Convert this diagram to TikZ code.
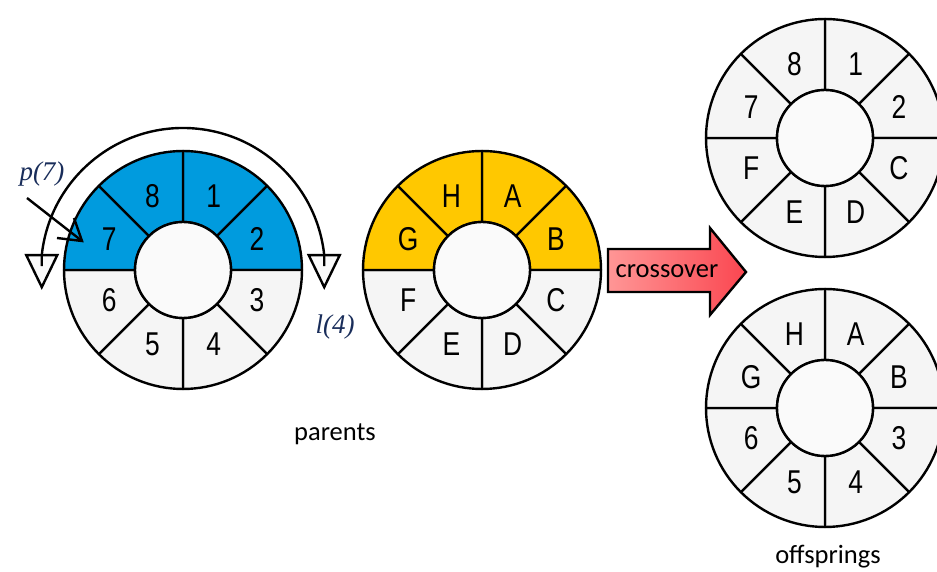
\documentclass[tikz,border=0pt]{standalone}
\usepackage{fontspec}
\setmainfont{Carlito}
\newfontfamily\genefont[FakeStretch=0.8]{Liberation Sans}
\newfontfamily\symfont{Liberation Serif}
\usetikzlibrary{arrows.meta,calc}

\definecolor{segblue}{RGB}{0,155,222}
\definecolor{segyellow}{RGB}{255,200,0}
\definecolor{seggray}{RGB}{245,245,245}
\definecolor{hubgray}{RGB}{250,250,250}
\definecolor{labelnavy}{RGB}{25,45,90}
\definecolor{arrowpink}{RGB}{255,150,150}
\definecolor{arrowred}{RGB}{250,70,80}

\tikzset{
  ringline/.style={draw=black, line width=2.4pt, line join=round},
  gene/.style={font=\genefont\fontsize{33}{33}\selectfont, inner sep=0pt},
  caption/.style={font=\fontsize{26.5}{26.5}\selectfont, inner sep=0pt},
  pointlabel/.style={font=\symfont\itshape\fontsize{27}{27}\selectfont, text=labelnavy, inner sep=0pt},
  openhead/.style={draw=black, line width=2.4pt, fill=hubgray, line join=miter},
}

% #1 centre, #2 name prefix, #3 list of angle/text/fill
\newcommand\genering[3]{%
  \begin{scope}[shift={#1}]
    \foreach \a/\t/\c [count=\i] in {#3} {
      \filldraw[ringline, fill=\c]
        ({\a-22.5}:48) -- ({\a-22.5}:119)
        arc[start angle={\a-22.5}, end angle={\a+22.5}, radius=119]
        -- ({\a+22.5}:48)
        arc[start angle={\a+22.5}, end angle={\a-22.5}, radius=48] -- cycle;
      \node[gene] (#2-\i) at (\a:80) {\t};
    }
    \filldraw[ringline, fill=hubgray] (0,0) circle[radius=48];
  \end{scope}}

\begin{document}
\begin{tikzpicture}[x=1pt, y=1pt]
  \useasboundingbox (0,0) rectangle (937,572);

  \coordinate (c1) at (183,302);
  \coordinate (c2) at (482,302);
  \coordinate (c3) at (825,434);
  \coordinate (c4) at (825,164);

  % parent rings
  \genering{(c1)}{pa}{67.5/1/segblue, 22.5/2/segblue, -22.5/3/seggray, -67.5/4/seggray,
    -112.5/5/seggray, -157.5/6/seggray, 157.5/7/segblue, 112.5/8/segblue}
  \genering{(c2)}{pb}{67.5/A/segyellow, 22.5/B/segyellow, -22.5/C/seggray, -67.5/D/seggray,
    -112.5/E/seggray, -157.5/F/seggray, 157.5/G/segyellow, 112.5/H/segyellow}

  % offspring rings
  \genering{(c3)}{oa}{67.5/1/seggray, 22.5/2/seggray, -22.5/C/seggray, -67.5/D/seggray,
    -112.5/E/seggray, -157.5/F/seggray, 157.5/7/seggray, 112.5/8/seggray}
  \genering{(c4)}{ob}{67.5/A/seggray, 22.5/B/seggray, -22.5/3/seggray, -67.5/4/seggray,
    -112.5/5/seggray, -157.5/6/seggray, 157.5/G/seggray, 112.5/H/seggray}

  % segment span arc with open heads at both ends
  \coordinate (arcL) at ($(c1)+(174:142)$);
  \coordinate (arcR) at ($(c1)+(6:142)$);
  \filldraw[openhead] ($(arcL)+(-15.5,0)$) -- ($(arcL)+(15.5,0)$) -- ($(arcL)+(0,-32)$) -- cycle;
  \filldraw[openhead] ($(arcR)+(-15.5,0)$) -- ($(arcR)+(15.5,0)$) -- ($(arcR)+(0,-32)$) -- cycle;
  \draw[line width=2.4pt] ($(arcL)+(0,-11)$) -- (arcL)
    arc[start angle=174, end angle=6, radius=142] -- ($(arcR)+(0,-11)$);

  % position and length labels
  \node[pointlabel] (p7) at (42,398) {p(7)};
  \coordinate (p7tail) at (27,374);
  \coordinate (p7tip) at (82,331);
  \draw[line width=2.4pt] (p7tail) -- (p7tip);
  \draw[line width=2.4pt, line join=miter] ($(p7tip)+(-25,3)$) -- (p7tip) -- ($(p7tip)+(-8,23)$);
  \node[pointlabel] (l4) at (335,245) {l(4)};

  % crossover arrow
  \coordinate (xa) at (608,280);
  \filldraw[draw=black, line width=2.4pt, line join=miter,
      left color=arrowpink, middle color=arrowpink, right color=arrowred]
    (xa) -- (608,323) -- (710,323) -- (710,344) -- (746,300)
    -- (710,257) -- (710,280) -- cycle;
  \node[caption] (xo) at (667,301) {crossover};

  % captions
  \node[caption] (parents) at (335,138) {parents};
  \node[caption] (offspr) at (828,15) {offsprings};
\end{tikzpicture}
\end{document}
